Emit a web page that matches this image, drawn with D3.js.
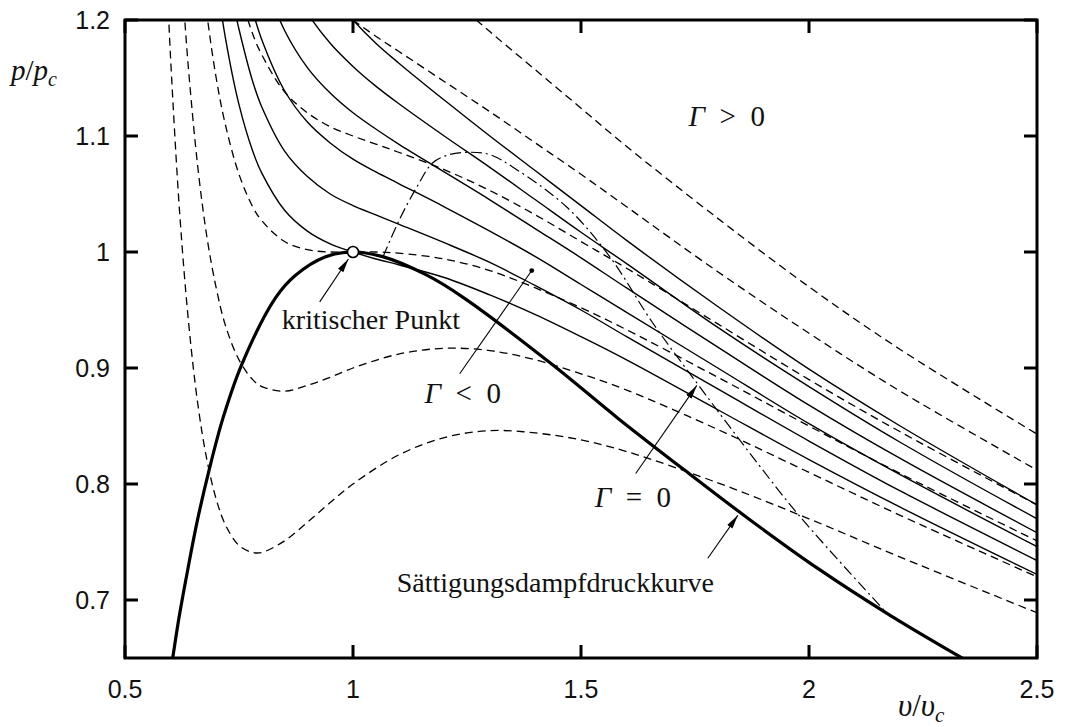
<!DOCTYPE html>
<html>
<head>
<meta charset="utf-8">
<script src="https://cdn.jsdelivr.net/npm/d3@7"></script>
<style>
  body { margin: 0; background: #fff; }
  text { fill: #111; }
  .tick-label { font-family: "Liberation Sans", Arial, sans-serif; font-size: 25px; }
  .serif { font-family: "Liberation Serif", "Times New Roman", serif; }
</style>
</head>
<body>
<svg id="chart" width="1069" height="727"></svg>
<script>
// ticks
var xTicks = [0.5, 1, 1.5, 2, 2.5];
var xTickLabels = ["0.5", "1", "1.5", "2", "2.5"];
var yTicks = [0.7, 0.8, 0.9, 1.0, 1.1, 1.2];
var yTickLabels = ["0.7", "0.8", "0.9", "1", "1.1", "1.2"];

// isotherms (dashed), [v/vc, p/pc]
var isoT095 = [[0.59,1.252],[0.60,1.167],[0.62,1.033],[0.64,0.937],[0.66,0.868],[0.68,0.820],[0.70,0.787],[0.72,0.765],[0.75,0.747],[0.78,0.741],[0.80,0.741],[0.85,0.751],[0.90,0.767],[0.95,0.784],[1.00,0.800],[1.10,0.825],[1.20,0.840],[1.30,0.846],[1.40,0.844],[1.50,0.838],[1.60,0.828],[1.80,0.801],[2.00,0.770],[2.20,0.737],[2.50,0.689]];
var isoT0975 = [[0.62,1.265],[0.63,1.206],[0.64,1.154],[0.66,1.072],[0.68,1.012],[0.70,0.969],[0.72,0.937],[0.75,0.907],[0.78,0.890],[0.80,0.884],[0.85,0.880],[0.90,0.885],[0.95,0.892],[1.00,0.900],[1.10,0.912],[1.20,0.917],[1.30,0.915],[1.40,0.907],[1.50,0.895],[1.60,0.881],[1.80,0.847],[2.00,0.810],[2.20,0.773],[2.50,0.720]];
var isoT100 = [[0.66,1.276],[0.68,1.204],[0.70,1.150],[0.72,1.110],[0.75,1.067],[0.78,1.039],[0.80,1.027],[0.85,1.009],[0.90,1.002],[0.95,1.000],[1.00,1.000],[1.05,1.000],[1.10,0.999],[1.20,0.994],[1.30,0.984],[1.40,0.969],[1.50,0.952],[1.60,0.933],[1.80,0.892],[2.00,0.850],[2.20,0.809],[2.50,0.751]];
var isoT1025 = [[0.70,1.332],[0.72,1.282],[0.75,1.227],[0.78,1.188],[0.80,1.170],[0.85,1.138],[0.90,1.120],[0.95,1.108],[1.00,1.100],[1.05,1.093],[1.10,1.086],[1.20,1.071],[1.30,1.053],[1.40,1.032],[1.50,1.009],[1.60,0.986],[1.80,0.938],[2.00,0.890],[2.20,0.845],[2.50,0.782]];
var isoT105 = [[0.85,1.267],[0.90,1.238],[0.95,1.216],[1.00,1.200],[1.05,1.186],[1.10,1.173],[1.20,1.147],[1.30,1.121],[1.40,1.094],[1.50,1.067],[1.60,1.039],[1.80,0.983],[2.00,0.930],[2.20,0.880],[2.50,0.812]];
var isoT1075 = [[1.10,1.260],[1.20,1.224],[1.30,1.190],[1.40,1.157],[1.50,1.124],[1.60,1.091],[1.80,1.029],[2.00,0.970],[2.20,0.916],[2.50,0.843]];

// isentropes (solid)
var isenS0 = [[0.70,1.238],[0.72,1.185],[0.75,1.127],[0.78,1.087],[0.80,1.068],[0.85,1.036],[0.90,1.018],[0.95,1.007],[1.00,1.000],[1.05,0.994],[1.10,0.989],[1.20,0.978],[1.30,0.963],[1.40,0.946],[1.50,0.927],[1.60,0.907],[1.80,0.864],[2.00,0.821],[2.20,0.780],[2.50,0.722]];
var isenS1 = [[0.72,1.255],[0.74,1.210],[0.75,1.192],[0.78,1.147],[0.80,1.125],[0.85,1.087],[0.90,1.065],[0.95,1.050],[1.00,1.040],[1.05,1.032],[1.10,1.024],[1.20,1.008],[1.30,0.991],[1.40,0.971],[1.50,0.950],[1.60,0.927],[1.80,0.882],[2.00,0.837],[2.20,0.794],[2.50,0.734]];
var isenS2 = [[0.75,1.256],[0.78,1.208],[0.80,1.183],[0.85,1.139],[0.90,1.112],[0.95,1.094],[1.00,1.080],[1.05,1.069],[1.10,1.059],[1.20,1.039],[1.30,1.018],[1.40,0.996],[1.50,0.972],[1.60,0.948],[1.80,0.900],[2.00,0.852],[2.20,0.808],[2.50,0.746]];
var isenS3 = [[0.80,1.240],[0.85,1.191],[0.90,1.159],[0.95,1.137],[1.00,1.120],[1.05,1.106],[1.10,1.093],[1.20,1.069],[1.30,1.045],[1.40,1.020],[1.50,0.995],[1.60,0.969],[1.80,0.918],[2.00,0.868],[2.20,0.822],[2.50,0.758]];
var isenS4 = [[0.85,1.243],[0.90,1.206],[0.95,1.180],[1.00,1.160],[1.05,1.143],[1.10,1.128],[1.20,1.100],[1.30,1.073],[1.40,1.045],[1.50,1.017],[1.60,0.990],[1.80,0.935],[2.00,0.884],[2.20,0.836],[2.50,0.770]];
var isenS5 = [[0.95,1.224],[1.00,1.200],[1.05,1.180],[1.10,1.163],[1.20,1.131],[1.30,1.100],[1.40,1.070],[1.50,1.040],[1.60,1.010],[1.80,0.953],[2.00,0.899],[2.20,0.850],[2.50,0.782]];

// saturation curve (thick), liquid side then vapour side
var saturation = [[0.5917,0.618],[0.6034,0.647],[0.6194,0.687],[0.638,0.727],[0.659,0.769],[0.6844,0.812],[0.715,0.857],[0.756,0.903],[0.830,0.9605],[0.874,0.980],[0.94,0.996],[1.0,1.0],[1.065,0.996],[1.162,0.980],[1.243,0.9605],[1.437,0.903],[1.58,0.857],[1.727,0.812],[1.871,0.769],[2.02,0.727],[2.177,0.687],[2.349,0.647],[2.48,0.618]];

// Gamma = 0 curve (dash-dot)
var gammaZero = [[1.066,0.996],[1.102,1.028],[1.140,1.056],[1.175,1.077],[1.212,1.084],[1.256,1.086],[1.300,1.084],[1.359,1.071],[1.468,1.039],[1.563,0.996],[1.657,0.939],[1.760,0.884],[1.848,0.838],[1.980,0.772],[2.170,0.689]];

var criticalPoint = [1.0, 1.0];

var svg = d3.select("#chart"),
    margin = {top: 20, right: 32, bottom: 69, left: 125},
    width = +svg.attr("width") - margin.left - margin.right,
    height = +svg.attr("height") - margin.top - margin.bottom;

var x = d3.scaleLinear().domain([0.5, 2.5]).range([0, width]),
    y = d3.scaleLinear().domain([0.65, 1.2]).range([height, 0]);

var defs = svg.append("defs");
defs.append("clipPath").attr("id", "plotclip")
  .append("rect").attr("width", width).attr("height", height);

defs.append("marker")
    .attr("id", "head")
    .attr("markerUnits", "userSpaceOnUse")
    .attr("viewBox", "0 0 14 8")
    .attr("refX", 14).attr("refY", 4)
    .attr("markerWidth", 14).attr("markerHeight", 8)
    .attr("orient", "auto")
  .append("path").attr("d", "M0,0.8 L14,4 L0,7.2 Z").attr("fill", "#000");

var g = svg.append("g").attr("transform", "translate(" + margin.left + "," + margin.top + ")");

var line = d3.line()
    .x(function(d) { return x(d[0]); })
    .y(function(d) { return y(d[1]); })
    .curve(d3.curveCatmullRom.alpha(0.5));

var curves = g.append("g").attr("clip-path", "url(#plotclip)");

[isoT095, isoT0975, isoT100, isoT1025, isoT105, isoT1075].forEach(function(d) {
  curves.append("path").datum(d)
      .attr("d", line)
      .attr("fill", "none")
      .attr("stroke", "#000")
      .attr("stroke-width", 1.3)
      .attr("stroke-dasharray", "8,5");
});

[isenS0, isenS1, isenS2, isenS3, isenS4, isenS5].forEach(function(d) {
  curves.append("path").datum(d)
      .attr("d", line)
      .attr("fill", "none")
      .attr("stroke", "#000")
      .attr("stroke-width", 1.4);
});

curves.append("path").datum(gammaZero)
    .attr("d", line)
    .attr("fill", "none")
    .attr("stroke", "#000")
    .attr("stroke-width", 1.2)
    .attr("stroke-dasharray", "11,4,2,4");

curves.append("path").datum(saturation)
    .attr("d", line)
    .attr("fill", "none")
    .attr("stroke", "#000")
    .attr("stroke-width", 3.2);

// pointers
function pointer(x0, y0, x1, y1, head) {
  var l = g.append("line")
      .attr("x1", x(x0)).attr("y1", y(y0))
      .attr("x2", x(x1)).attr("y2", y(y1))
      .attr("stroke", "#000").attr("stroke-width", 1.1);
  if (head) l.attr("marker-end", "url(#head)");
}
pointer(0.927, 0.957, 0.990, 0.994, true);
pointer(1.234, 0.895, 1.392, 0.984, false);
g.append("circle").attr("cx", x(1.392)).attr("cy", y(0.984)).attr("r", 2.4).attr("fill", "#000");
pointer(1.620, 0.809, 1.754, 0.885, true);
pointer(1.778, 0.736, 1.844, 0.773, true);

// critical point
g.append("circle")
    .attr("cx", x(criticalPoint[0])).attr("cy", y(criticalPoint[1]))
    .attr("r", 5.5)
    .attr("fill", "#fff").attr("stroke", "#000").attr("stroke-width", 1.6);

// frame and inward ticks
g.append("rect").attr("width", width).attr("height", height)
    .attr("fill", "none").attr("stroke", "#000").attr("stroke-width", 3);

var tickLen = 13;
xTicks.forEach(function(t, i) {
  g.append("line").attr("x1", x(t)).attr("x2", x(t)).attr("y1", height).attr("y2", height - tickLen)
      .attr("stroke", "#000").attr("stroke-width", 3);
  g.append("line").attr("x1", x(t)).attr("x2", x(t)).attr("y1", 0).attr("y2", tickLen)
      .attr("stroke", "#000").attr("stroke-width", 3);
  g.append("text").attr("class", "tick-label")
      .attr("x", x(t)).attr("y", height + 40)
      .attr("text-anchor", "middle")
      .text(xTickLabels[i]);
});
yTicks.forEach(function(t, i) {
  g.append("line").attr("x1", 0).attr("x2", tickLen).attr("y1", y(t)).attr("y2", y(t))
      .attr("stroke", "#000").attr("stroke-width", 3);
  g.append("line").attr("x1", width).attr("x2", width - tickLen).attr("y1", y(t)).attr("y2", y(t))
      .attr("stroke", "#000").attr("stroke-width", 3);
  g.append("text").attr("class", "tick-label")
      .attr("x", -15).attr("y", y(t) + 9)
      .attr("text-anchor", "end")
      .text(yTickLabels[i]);
});

// axis titles
var yl = svg.append("text").attr("class", "serif").attr("x", 11).attr("y", 80).style("font-size", "29px");
yl.append("tspan").style("font-style", "italic").text("p");
yl.append("tspan").text("/");
yl.append("tspan").style("font-style", "italic").text("p");
yl.append("tspan").attr("dy", 6).style("font-size", "20px").style("font-style", "italic").text("c");

var xl = svg.append("text").attr("class", "serif").attr("x", 898).attr("y", 716).style("font-size", "31px");
xl.append("tspan").style("font-style", "italic").text("υ");
xl.append("tspan").text("/");
xl.append("tspan").style("font-style", "italic").text("υ");
xl.append("tspan").attr("dy", 6).style("font-size", "21px").style("font-style", "italic").text("c");

// annotations
g.append("text").attr("class", "serif").attr("x", x(0.844)).attr("y", y(0.934))
    .style("font-size", "28px").text("kritischer Punkt");
g.append("text").attr("class", "serif").attr("x", x(1.096)).attr("y", y(0.707))
    .style("font-size", "28px").text("Sättigungsdampfdruckkurve");

function gammaLabel(vx, py, rel) {
  var t = g.append("text").attr("class", "serif").attr("x", x(vx)).attr("y", y(py)).style("font-size", "29px");
  t.append("tspan").style("font-style", "italic").text("Γ");
  t.append("tspan").text("\u2002" + rel + "\u20020");
}
gammaLabel(1.736, 1.109, ">");
gammaLabel(1.157, 0.870, "<");
gammaLabel(1.530, 0.780, "=");
</script>
</body>
</html>
